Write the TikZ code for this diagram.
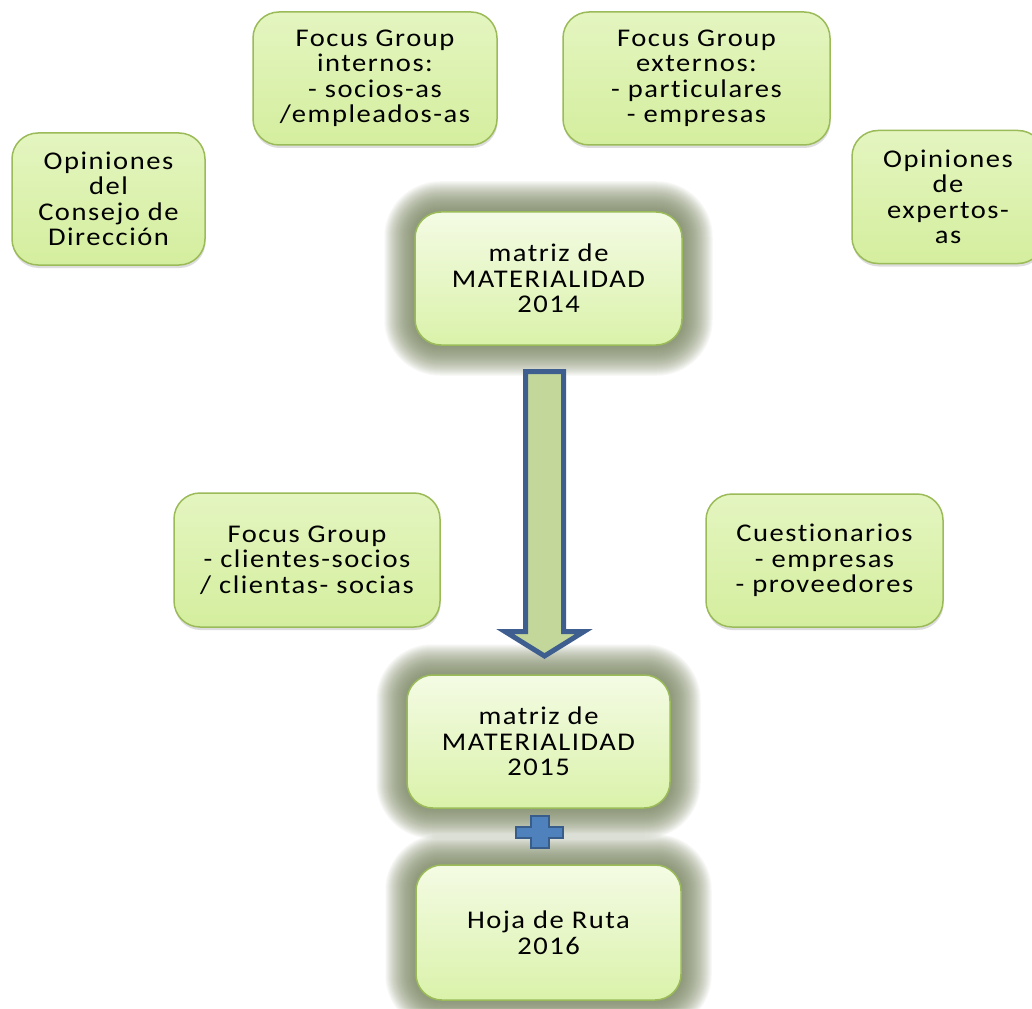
\documentclass[tikz,border=0pt]{standalone}
\usepackage{fontspec}
\setmainfont{Carlito}[FakeStretch=1.12, LetterSpace=6, Ligatures=NoCommon]
\usetikzlibrary{shadows,backgrounds}
\definecolor{bordc}{RGB}{155,187,89}
\definecolor{otop}{RGB}{228,245,192}
\definecolor{obot}{RGB}{212,238,158}
\definecolor{mtop}{RGB}{244,251,228}
\definecolor{mbot}{RGB}{218,242,170}
\definecolor{glowc}{RGB}{125,138,100}
\definecolor{arrowline}{RGB}{61,94,142}
\definecolor{arrowfill}{RGB}{196,215,155}
\definecolor{plusfill}{RGB}{79,129,189}
\definecolor{plusline}{RGB}{56,93,138}
\newcommand\boxfont{\fontsize{25.5}{25.5}\selectfont}
\newcommand\glowbox[1]{%
  \foreach \k in {30,29,...,1}{%
    \fill[glowc, opacity=0.052, rounded corners={(26+\k)*1pt}]
      ([shift={(-\k,-\k)}]#1.north west) rectangle ([shift={(\k,\k)}]#1.south east);}}
\tikzset{
  basebox/.style={rectangle, rounded corners=26pt, draw=bordc, line width=1.5pt,
    align=center, font=\boxfont, inner sep=0pt},
  outerbox/.style={basebox, top color=otop, bottom color=obot,
    drop shadow={shadow xshift=0.5pt, shadow yshift=-3pt, opacity=0.22, fill=black!60}},
  mainbox/.style={basebox, top color=mtop, bottom color=mbot},
}
\begin{document}
\begin{tikzpicture}[x=1pt,y=-1pt]
\useasboundingbox (0,0) rectangle (1032,1008);
\clip (0,0) rectangle (1032,1008);

\node[outerbox, minimum width=193pt, minimum height=132pt] (A) at (108.5,199) {Opiniones\\del\\Consejo de\\Dirección};
\node[outerbox, minimum width=244pt, minimum height=133pt] (B) at (375,78.5) {Focus Group\\internos:\\- socios-as\\/empleados-as};
\node[outerbox, minimum width=267pt, minimum height=133pt] (C) at (696.5,78.5) {Focus Group\\externos:\\- particulares\\- empresas};
\node[outerbox, minimum width=192pt, minimum height=133pt] (D) at (948,197) {Opiniones\\de\\expertos-\\as};
\node[outerbox, minimum width=266pt, minimum height=134pt] (E) at (307,560) {Focus Group\\- clientes-socios\\/ clientas- socias};
\node[outerbox, minimum width=237pt, minimum height=133pt] (F) at (824.5,560.5) {Cuestionarios\\- empresas\\- proveedores};

\node[mainbox, minimum width=267pt, minimum height=133pt] (M1) at (548.5,278.5) {matriz de\\MATERIALIDAD\\2014};
\node[mainbox, minimum width=263pt, minimum height=133pt] (M2) at (538.5,741.5) {matriz de\\MATERIALIDAD\\2015};
\node[mainbox, minimum width=265pt, minimum height=135pt] (M3) at (548.5,932.5) {Hoja de Ruta\\2016};

\begin{scope}[on background layer]
  \fill[white] (0,0) rectangle (1032,1008);
  \glowbox{M1}
  \glowbox{M2}
  \glowbox{M3}
\end{scope}

% block arrow
\draw[arrowline, fill=arrowfill, line width=5pt, line join=miter]
  (525.5,371.5) -- (563.5,371.5) -- (563.5,631.5) -- (584,631.5) -- (544.5,656)
  -- (505,631.5) -- (525.5,631.5) -- cycle;

% plus sign
\draw[plusline, fill=plusfill, line width=2pt]
  (531,816) -- (549,816) -- (549,827) -- (563,827) -- (563,838) -- (549,838)
  -- (549,848) -- (531,848) -- (531,838) -- (516,838) -- (516,827) -- (531,827) -- cycle;
\end{tikzpicture}
\end{document}
